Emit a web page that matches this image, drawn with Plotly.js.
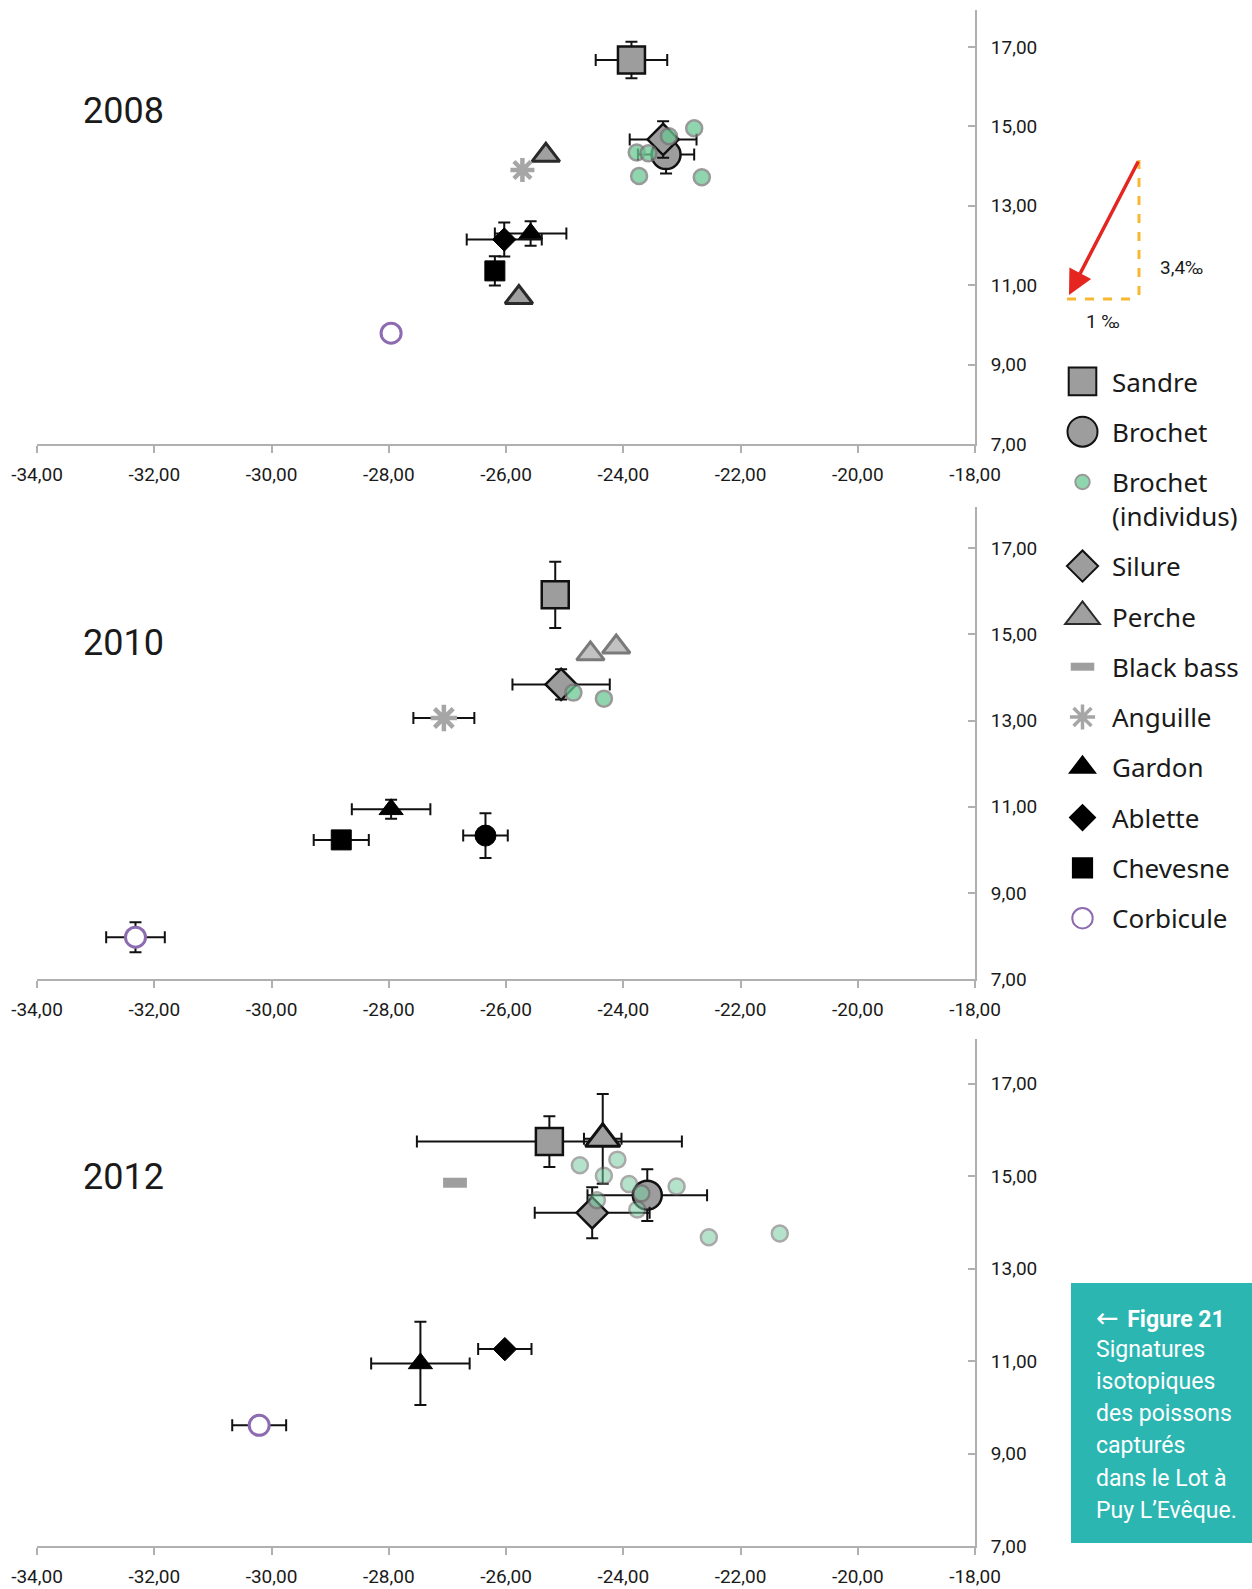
<!DOCTYPE html>
<html><head><meta charset="utf-8">
<script src="https://cdn.plot.ly/plotly-3.0.1.min.js"></script>
<style>html,body{margin:0;padding:0;background:#fff}</style>
</head><body><div id="chart" style="width:1252px;height:1589px"></div>
<script>
// ---------- DATA (δ13C on x, δ15N on y) ; index 0 = 2008, 1 = 2010, 2 = 2012 ; null = absent ----------
const years = ['2008', '2010', '2012'];
const xTickVals = [-34, -32, -30, -28, -26, -24, -22, -20, -18];
const xTickText = ['-34,00', '-32,00', '-30,00', '-28,00', '-26,00', '-24,00', '-22,00', '-20,00', '-18,00'];
const yTickVals = [7, 9, 11, 13, 15, 17];

const sandreX  = [[-23.86], [-25.16], [-25.26]];
const sandreY  = [[16.67], [15.92], [15.75]];
const sandreEX = [[0.61], null, [2.26]];
const sandreEY = [[0.46], [0.77], [0.55]];

const brochetX  = [[-23.27], null, [-23.59]];
const brochetY  = [[14.29], null, [14.59]];
const brochetEX = [[0.48], null, [1.02]];
const brochetEY = [[0.48], null, [0.56]];

const indivX = [[-22.79, -23.22, -23.77, -23.57, -23.73, -22.66],
                [-24.85, -24.33],
                [-24.74, -24.10, -24.33, -23.90, -23.69, -23.09, -24.45, -23.76, -22.54, -21.33]];
const indivY = [[14.95, 14.75, 14.34, 14.32, 13.75, 13.72],
                [13.65, 13.51],
                [15.24, 15.36, 15.01, 14.83, 14.63, 14.78, 14.48, 14.28, 13.68, 13.76]];

const silureX  = [[-23.32], [-25.06], [-24.53]];
const silureY  = [[14.67], [13.84], [14.21]];
const silureEX = [[0.57], [0.83], [0.98]];
const silureEY = [[0.46], [0.35], [0.55]];

const percheX  = [[-25.32, -25.78], [-24.56, -24.12], [-24.35]];
const percheY  = [[14.27, 10.69], [14.55, 14.71], [15.81]];
const percheEX = [null, null, [0.32]];
const percheEY = [null, null, [0.97]];

const blackbassX = [null, null, [-26.87]];
const blackbassY = [null, null, [14.86]];

const anguilleX  = [[-25.72], [-27.06], null];
const anguilleY  = [[13.90], [13.06], null];
const anguilleEX = [null, [0.52], null];
const anguilleEY = [null, null, null];

const gardonX  = [[-25.58], [-27.96], [-27.46]];
const gardonY  = [[12.30], [10.94], [10.95]];
const gardonEX = [[0.61], [0.67], [0.84]];
const gardonEY = [[0.31], [0.22], [0.90]];

const abletteX  = [[-26.03], null, [-26.02]];
const abletteY  = [[12.15], null, [11.26]];
const abletteEX = [[0.64], null, [0.455]];
const abletteEY = [[0.43], null, null];

const chevesneX  = [[-26.19], [-28.81], null];
const chevesneY  = [[11.36], [10.23], null];
const chevesneEX = [null, [0.47], null];
const chevesneEY = [[0.37], null, null];

const corbiculeX  = [[-27.96], [-32.32], [-30.21]];
const corbiculeY  = [[9.79], [7.97], [9.61]];
const corbiculeEX = [null, [0.50], [0.46]];
const corbiculeEY = [null, [0.35], null];

// black filled circle present in 2010 only (not in the legend)
const noirX  = [null, [-26.35], null];
const noirY  = [null, [10.33], null];
const noirEX = [null, [0.38], null];
const noirEY = [null, [0.52], null];

const captionLines = ['<span style="font-family:\'DejaVu Sans\';font-size:27px;font-weight:normal">\u2190 </span><b>Figure 21</b>', 'Signatures', 'isotopiques', 'des poissons', 'capturés', 'dans le Lot à', 'Puy L\u2019Evêque.'];

// ---------- STYLES ----------
const GRAY = '#9d9d9d', DARK = '#111111';
const FONT = 'Roboto, "Noto Sans", sans-serif';

function ebar(arr) {
  return arr ? {type: 'data', array: arr, visible: true, color: '#111', thickness: 2, width: 6}
             : {visible: false};
}
const traces = [];
const legendScale = {};
const legendStroke = {};
function addSpecies(name, rank, X, Y, EX, EY, markerFor, lscale, lstroke, legendVisible) {
  let shown = false;
  for (let i = 0; i < 3; i++) {
    if (!X[i]) continue;
    const ax = i === 0 ? '' : String(i + 1);
    const show = legendVisible !== false && !shown;
    shown = shown || show;
    traces.push({
      type: 'scatter', mode: 'markers', name: name, legendgroup: name, legendrank: rank,
      showlegend: show, x: X[i], y: Y[i], xaxis: 'x' + ax, yaxis: 'y' + ax,
      marker: markerFor(i),
      error_x: ebar(EX && EX[i]), error_y: ebar(EY && EY[i]),
      hovertemplate: name + ' ' + years[i] + '<br>%{x:.2f} ; %{y:.2f}<extra></extra>'
    });
  }
  legendScale[name] = lscale;
  legendStroke[name] = lstroke;
}
const none3 = [null, null, null];

addSpecies('Sandre', 1, sandreX, sandreY, sandreEX, sandreEY,
  () => ({symbol: 'square', size: 27, color: GRAY, line: {color: DARK, width: 2.5}}), 2.3, null);
addSpecies('Brochet', 2, brochetX, brochetY, brochetEX, brochetEY,
  () => ({symbol: 'circle', size: 29, color: GRAY, line: {color: DARK, width: 2.5}}), 2.5, null);
addSpecies('Silure', 4, silureX, silureY, silureEX, silureEY,
  () => ({symbol: 'diamond', size: 24, color: GRAY, line: {color: DARK, width: 2.5}}), 2.0, null);
addSpecies('Perche', 5, percheX, percheY, percheEX, percheEY,
  (i) => [{symbol: 'triangle-up', size: 24, color: '#a0a0a0', line: {color: '#2a2a2a', width: 3}},
          {symbol: 'triangle-up', size: 24, color: '#c2c2c2', line: {color: '#7a7a7a', width: 3}},
          {symbol: 'triangle-up', size: 30, color: '#a0a0a0', line: {color: DARK, width: 3}}][i], 2.5, null);
addSpecies('Black bass', 6, blackbassX, blackbassY, none3, none3,
  () => ({symbol: 'line-ew-open', size: 17, color: '#9e9e9e', line: {color: '#9e9e9e', width: 10}}), 1.4, 8);
addSpecies('Anguille', 7, anguilleX, anguilleY, anguilleEX, anguilleEY,
  (i) => ({symbol: 'asterisk-open', size: i === 0 ? 20 : 22, color: '#a6a6a6', line: {color: '#a6a6a6', width: 4.5}}), 1.75, 3.5);
addSpecies('Gardon', 8, gardonX, gardonY, gardonEX, gardonEY,
  () => ({symbol: 'triangle-up', size: 21, color: '#000', line: {color: '#000', width: 1}}), 1.8, null);
addSpecies('Ablette', 9, abletteX, abletteY, abletteEX, abletteEY,
  () => ({symbol: 'diamond', size: 18, color: '#000', line: {color: '#000', width: 1}}), 1.6, null);
addSpecies('Chevesne', 10, chevesneX, chevesneY, chevesneEX, chevesneEY,
  () => ({symbol: 'square', size: 20, color: '#000', line: {color: '#000', width: 1}}), 1.6, null);
addSpecies('Corbicule', 11, corbiculeX, corbiculeY, corbiculeEX, corbiculeEY,
  () => ({symbol: 'circle', size: 20, color: '#ffffff', line: {color: '#8c6bb1', width: 3}}), 1.7, null);
addSpecies('Noir', 12, noirX, noirY, noirEX, noirEY,
  () => ({symbol: 'circle', size: 21, color: '#000', line: {color: '#000', width: 1}}), 1, null, false);
addSpecies('Brochet<br>(individus)', 3, indivX, indivY, null, null,
  (i) => (i === 2 ? {symbol: 'circle', size: 16, color: '#78cca0', opacity: 0.55, line: {color: '#646464', width: 2.5}}
                  : {symbol: 'circle', size: 16, color: '#6ac793', opacity: 0.75, line: {color: '#777777', width: 2.5}}), 1.2, null);

// ---------- LAYOUT ----------
const L = 37, R = 975, T = 10, B = 1546;          // plot area in pixels
const px = v => (v - L) / (R - L);                  // pixel -> paper x
const py = v => (B - v) / (B - T);                  // pixel -> paper y

function xax(anchor) {
  return {anchor: anchor, domain: [0, 1], range: [-34, -18], tickvals: xTickVals, ticktext: xTickText,
    showline: true, linecolor: '#b0b0b0', linewidth: 2, ticks: 'outside', ticklen: 7, tickcolor: '#b0b0b0', tickwidth: 1.5,
    showgrid: false, zeroline: false, ticklabelstandoff: 5, tickfont: {family: FONT, size: 19, color: '#1a1a1a'}, fixedrange: true};
}
function yax(anchor, dom, top) {
  return {anchor: anchor, domain: dom, range: [7, top], side: 'right', tickvals: yTickVals, tickformat: '.2f',
    showline: true, linecolor: '#b0b0b0', linewidth: 2, ticks: 'inside', ticklen: 7, tickcolor: '#b0b0b0', tickwidth: 1.5,
    showgrid: false, zeroline: false, ticklabelstandoff: 10, tickfont: {family: FONT, size: 19, color: '#1a1a1a'}, fixedrange: true};
}

const annotations = [];
[[years[0], 111.5], [years[1], 643], [years[2], 1177]].forEach(([t, y]) => {
  annotations.push({text: t, xref: 'paper', yref: 'paper', x: px(81), y: py(y), xanchor: 'left', yanchor: 'middle',
    showarrow: false, font: {family: FONT, size: 36, color: '#1a1a1a'}});
});
// enrichment arrow
annotations.push({text: '', xref: 'paper', yref: 'paper', x: px(1069), y: py(295), ax: 70, ay: -135,
  showarrow: true, arrowhead: 2, arrowsize: 1.4, arrowwidth: 3.5, arrowcolor: '#e52620', standoff: 0});
annotations.push({text: '3,4‰', xref: 'paper', yref: 'paper', x: px(1181), y: py(267), xanchor: 'center', yanchor: 'middle',
  showarrow: false, font: {family: FONT, size: 19, color: '#1a1a1a'}});
annotations.push({text: '1 ‰', xref: 'paper', yref: 'paper', x: px(1103), y: py(321), xanchor: 'center', yanchor: 'middle',
  showarrow: false, font: {family: FONT, size: 19, color: '#1a1a1a'}});
captionLines.forEach((t, i) => {
  annotations.push({text: t, xref: 'paper', yref: 'paper', x: px(1094), y: py(1317 + i * 32.2),
    xanchor: 'left', yanchor: 'middle', showarrow: false, font: {family: FONT, size: 23, color: '#ffffff'}});
});

const shapes = [
  {type: 'line', xref: 'paper', yref: 'paper', x0: px(1139), x1: px(1139), y0: py(160), y1: py(299),
   line: {color: '#f7b733', width: 3, dash: 'dash'}},
  {type: 'line', xref: 'paper', yref: 'paper', x0: px(1067), x1: px(1139), y0: py(299), y1: py(299),
   line: {color: '#f7b733', width: 3, dash: 'dash'}},
  {type: 'rect', xref: 'paper', yref: 'paper', x0: px(1071), x1: px(1252), y0: py(1543), y1: py(1283),
   fillcolor: '#2bb6b2', line: {width: 0}, layer: 'below'}
];

const layout = {
  width: 1252, height: 1589, paper_bgcolor: '#fff', plot_bgcolor: 'rgba(0,0,0,0)',
  margin: {l: L, r: 1252 - R, t: T, b: 1589 - B, autoexpand: false},
  separators: ', ', showlegend: true, hovermode: 'closest',
  font: {family: FONT, color: '#1a1a1a'},
  xaxis: xax('y'), xaxis2: xax('y2'), xaxis3: xax('y3'),
  yaxis: yax('x', [py(444), 1], 17.93),
  yaxis2: yax('x2', [py(979), py(507)], 17.96),
  yaxis3: yax('x3', [0, py(1039)], 17.97),
  legend: {x: px(1053), y: py(358), xanchor: 'left', yanchor: 'top', traceorder: 'grouped', tracegroupgap: 13.5,
    itemsizing: 'constant', itemwidth: 49, valign: 'top', bgcolor: 'rgba(0,0,0,0)',
    font: {family: '"Noto Sans", sans-serif', size: 26, color: '#1a1a1a'}},
  annotations: annotations, shapes: shapes
};

Plotly.newPlot('chart', traces, layout, {displayModeBar: false, responsive: false}).then(gd => {
  gd.querySelectorAll('.legend .traces').forEach(tr => {
    const d = tr.__data__;
    const name = d && d[0] && d[0].trace ? d[0].trace.name : null;
    const s = legendScale[name] || 1;
    tr.querySelectorAll('.legendpoints path.scatterpts').forEach(p => {
      const t = p.getAttribute('transform') || '';
      p.setAttribute('transform', t + ' scale(' + s + ')');
      if (legendStroke[name]) {
        p.style.strokeWidth = (legendStroke[name] / s) + 'px';
      } else {
        p.setAttribute('vector-effect', 'non-scaling-stroke');
      }
    });
  });
});
</script>
</body></html>
